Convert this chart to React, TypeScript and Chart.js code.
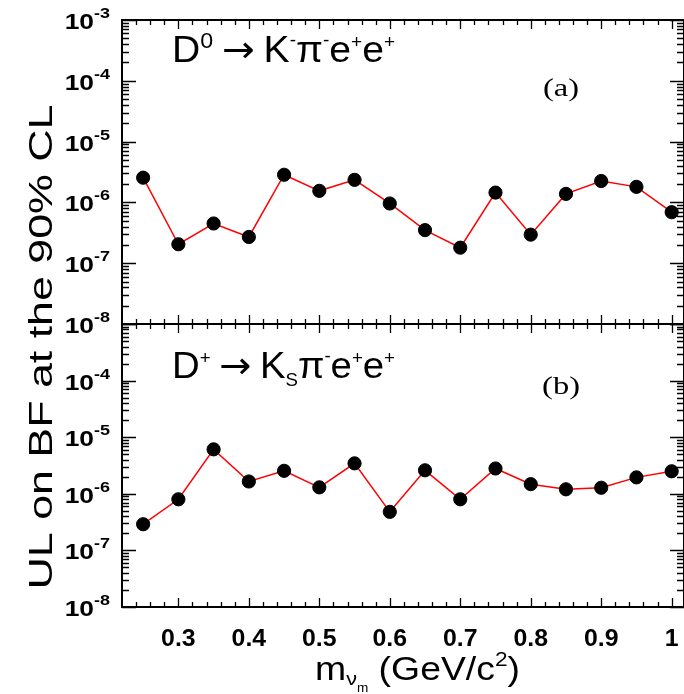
import React, { useEffect, useRef } from 'react';
import { Chart, registerables } from 'chart.js';

Chart.register(...registerables);

// ---- data ----
const massValues = [0.25, 0.3, 0.35, 0.4, 0.45, 0.5, 0.55, 0.6, 0.65, 0.7, 0.75, 0.8, 0.85, 0.9, 0.95, 1.0];
const ulD0KPiEE = [2.55e-6, 2.05e-7, 4.5e-7, 2.7e-7, 2.85e-6, 1.55e-6, 2.35e-6, 9.6e-7, 3.5e-7, 1.8e-7, 1.45e-6, 2.95e-7, 1.38e-6, 2.25e-6, 1.8e-6, 6.9e-7];
const ulDpKsPiEE = [2.9e-7, 8.0e-7, 6.1e-6, 1.65e-6, 2.55e-6, 1.3e-6, 3.45e-6, 4.8e-7, 2.6e-6, 8.0e-7, 2.8e-6, 1.48e-6, 1.2e-6, 1.28e-6, 1.95e-6, 2.5e-6];
const xTickValues = [0.3, 0.4, 0.5, 0.6, 0.7, 0.8, 0.9, 1.0];
const xTickLabels = ['0.3', '0.4', '0.5', '0.6', '0.7', '0.8', '0.9', '1'];
const yDecadeExponents = [-3, -4, -5, -6, -7, -8];
const panelTags = ['(a)', '(b)'];

type Seg = { t: string; size: number; dy: number; weight?: string; family?: string };

const SANS = '"Liberation Sans", Arial, sans-serif';
const DEJAVU = '"DejaVu Sans", sans-serif';
const SERIF = '"Liberation Serif", "Times New Roman", serif';

function segFont(s: Seg, family: string, weight: string) {
  return `${s.weight ?? weight} ${s.size}px ${s.family ?? family}`;
}

function drawSegs(
  ctx: CanvasRenderingContext2D,
  segs: Seg[],
  x: number,
  y: number,
  align: 'left' | 'right' | 'center',
  family: string,
  weight: string,
  targetWidth?: number,
  stretch?: number
) {
  ctx.save();
  ctx.textAlign = 'left';
  ctx.textBaseline = 'alphabetic';
  let total = 0;
  const widths = segs.map((s) => {
    ctx.font = segFont(s, family, weight);
    const w = ctx.measureText(s.t).width;
    total += w;
    return w;
  });
  const sx = targetWidth ? targetWidth / total : stretch ?? 1;
  const drawnW = total * sx;
  let start = x;
  if (align === 'right') start = x - drawnW;
  else if (align === 'center') start = x - drawnW / 2;
  ctx.translate(start, y);
  ctx.scale(sx, 1);
  let cx = 0;
  segs.forEach((s, i) => {
    ctx.font = segFont(s, family, weight);
    ctx.fillText(s.t, cx, s.dy);
    cx += widths[i];
  });
  ctx.restore();
}

const panelPlugin = {
  id: 'panelFrames',
  beforeDatasetsDraw(chart: any) {
    const ctx: CanvasRenderingContext2D = chart.ctx;
    const xs = chart.scales.x;
    ctx.save();
    ctx.strokeStyle = '#000';
    for (const id of ['yA', 'yB']) {
      const ys = chart.scales[id];
      ctx.lineWidth = 1.3;
      ctx.beginPath();
      // x ticks (top and bottom of the panel, pointing inwards)
      for (let k = 11; k <= 51; k++) {
        const v = k * 0.02;
        if (v <= xs.min + 1e-9 || v >= xs.max) continue;
        const px = Math.round(xs.getPixelForValue(v)) + 0.5;
        const major = k % 5 === 0;
        const len = major ? 9 : 5;
        ctx.moveTo(px, ys.top);
        ctx.lineTo(px, ys.top + len);
        ctx.moveTo(px, ys.bottom);
        ctx.lineTo(px, ys.bottom - len);
      }
      // y ticks (left and right, pointing inwards)
      for (let e = -8; e <= -3; e++) {
        for (let m = 1; m <= 9; m++) {
          if (e === -3 && m > 1) break;
          const v = m * Math.pow(10, e);
          const py = Math.round(ys.getPixelForValue(v)) + 0.5;
          const len = m === 1 ? 14 : 7;
          ctx.moveTo(xs.left, py);
          ctx.lineTo(xs.left + len, py);
          ctx.moveTo(xs.right, py);
          ctx.lineTo(xs.right - len, py);
        }
      }
      ctx.stroke();
      ctx.lineWidth = 2;
      ctx.strokeRect(xs.left, ys.top, xs.right - xs.left, ys.bottom - ys.top);
    }
    ctx.restore();
  },
  afterDraw(chart: any) {
    const ctx: CanvasRenderingContext2D = chart.ctx;
    const xs = chart.scales.x;
    const panels = [chart.scales.yA, chart.scales.yB];
    ctx.save();
    ctx.fillStyle = '#000';

    // y tick labels
    panels.forEach((ys, pi) => {
      yDecadeExponents.forEach((e) => {
        if (pi === 1 && e === -3) return;
        const py = ys.getPixelForValue(Math.pow(10, e));
        drawSegs(
          ctx,
          [
            { t: '10', size: 22, dy: 9 },
            { t: `-${Math.abs(e)}`, size: 15, dy: -2 },
          ],
          110,
          py,
          'right',
          SANS,
          'bold',
          undefined,
          1.2
        );
      });
    });

    // x tick labels
    xTickValues.forEach((v, i) => {
      const px = xs.getPixelForValue(v);
      drawSegs(ctx, [{ t: xTickLabels[i], size: 23, dy: 0 }], px, 646, 'center', SANS, 'bold', undefined, 1.08);
    });

    // x title
    drawSegs(
      ctx,
      [
        { t: 'm', size: 33, dy: 0 },
        { t: 'ν', size: 19, dy: 5 },
        { t: 'm', size: 12, dy: 12 },
        { t: ' (GeV/c', size: 33, dy: 0 },
        { t: '2', size: 20, dy: -14 },
        { t: ')', size: 33, dy: 0 },
      ],
      315,
      680,
      'left',
      SANS,
      'normal',
      205
    );

    // y title (rotated)
    ctx.save();
    ctx.translate(52, 347);
    ctx.rotate(-Math.PI / 2);
    drawSegs(ctx, [{ t: 'UL on BF at the 90% CL', size: 34, dy: 0 }], 0, 0, 'center', SANS, 'normal', 485);
    ctx.restore();

    // decay labels
    const yA = panels[0];
    const yB = panels[1];
    drawSegs(
      ctx,
      [
        { t: 'D', size: 37, dy: 0 },
        { t: '0', size: 22, dy: -14 },
        { t: ' ', size: 30, dy: 0 },
        { t: '→', size: 37, dy: 0, family: DEJAVU },
        { t: ' ', size: 30, dy: 0 },
        { t: 'K', size: 37, dy: 0 },
        { t: '-', size: 18, dy: -16 },
        { t: 'π', size: 37, dy: 0 },
        { t: '-', size: 18, dy: -16 },
        { t: 'e', size: 37, dy: 0 },
        { t: '+', size: 18, dy: -14 },
        { t: 'e', size: 37, dy: 0 },
        { t: '+', size: 18, dy: -14 },
      ],
      172,
      yA.top + 42,
      'left',
      SANS,
      'normal',
      223
    );
    drawSegs(
      ctx,
      [
        { t: 'D', size: 37, dy: 0 },
        { t: '+', size: 18, dy: -14 },
        { t: ' ', size: 30, dy: 0 },
        { t: '→', size: 37, dy: 0, family: DEJAVU },
        { t: ' ', size: 30, dy: 0 },
        { t: 'K', size: 37, dy: 0 },
        { t: 'S', size: 18, dy: 8 },
        { t: 'π', size: 37, dy: 0 },
        { t: '-', size: 18, dy: -16 },
        { t: 'e', size: 37, dy: 0 },
        { t: '+', size: 18, dy: -14 },
        { t: 'e', size: 37, dy: 0 },
        { t: '+', size: 18, dy: -14 },
      ],
      172,
      yB.top + 54,
      'left',
      SANS,
      'normal',
      223
    );

    // panel tags
    drawSegs(ctx, [{ t: panelTags[0], size: 26, dy: 0 }], 561, yA.top + 76, 'center', SERIF, 'normal', undefined, 1.25);
    drawSegs(ctx, [{ t: panelTags[1], size: 26, dy: 0 }], 561, yB.top + 70, 'center', SERIF, 'normal', undefined, 1.25);

    ctx.restore();
  },
};

export default function App() {
  const canvasRef = useRef<HTMLCanvasElement | null>(null);

  useEffect(() => {
    if (!canvasRef.current) return;
    const pointStyle = {
      borderColor: '#ff0000',
      borderWidth: 1.5,
      pointRadius: 6.6,
      pointBackgroundColor: '#000',
      pointBorderColor: '#000',
      pointBorderWidth: 1,
      tension: 0,
      fill: false,
      clip: false as any,
    };
    const chart = new Chart(canvasRef.current, {
      type: 'line',
      data: {
        datasets: [
          {
            label: 'D0 -> K- pi- e+ e+',
            data: massValues.map((x, i) => ({ x, y: ulD0KPiEE[i] })),
            xAxisID: 'x',
            yAxisID: 'yA',
            ...pointStyle,
          },
          {
            label: 'D+ -> Ks pi- e+ e+',
            data: massValues.map((x, i) => ({ x, y: ulDpKsPiEE[i] })),
            xAxisID: 'x',
            yAxisID: 'yB',
            ...pointStyle,
          },
        ],
      },
      options: {
        animation: false,
        responsive: true,
        maintainAspectRatio: false,
        layout: { autoPadding: false, padding: { left: 122, right: 0, top: 20, bottom: 87 } },
        plugins: { legend: { display: false }, tooltip: { enabled: false } },
        scales: {
          x: { type: 'linear', min: 0.22, max: 1.0175, display: false },
          yA: {
            type: 'logarithmic',
            min: 1e-8,
            max: 1e-3,
            position: 'left',
            stack: 'panels',
            stackWeight: 304,
            weight: 1,
            display: false,
          },
          yB: {
            type: 'logarithmic',
            min: 1e-8,
            max: 1e-3,
            position: 'left',
            stack: 'panels',
            stackWeight: 283,
            weight: 0,
            display: false,
          },
        },
      } as any,
      plugins: [panelPlugin],
    });
    return () => chart.destroy();
  }, []);

  return (
    <div style={{ position: 'absolute', left: 0, top: 0, width: 684, height: 694, background: '#fff' }}>
      <canvas ref={canvasRef} />
    </div>
  );
}
